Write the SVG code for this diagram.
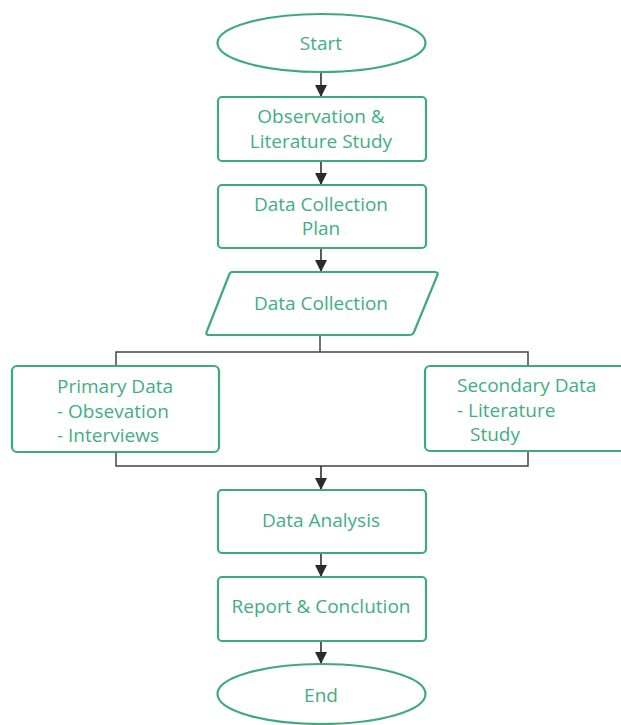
<svg xmlns="http://www.w3.org/2000/svg" width="621" height="725" viewBox="0 0 621 725">
<style>
.n{fill:#fff;stroke:#3caa7c;stroke-width:2.2}
.t{fill:#3fae82;font-family:"Open Sans",Roboto,sans-serif;font-size:19px}
.c{fill:none;stroke:#444;stroke-width:1.5}
.a{fill:none;stroke:#333;stroke-width:1.6}
</style>
<defs>
<marker id="ah" markerWidth="12" markerHeight="12" viewBox="0 0 12 12" refX="12" refY="6" orient="auto" markerUnits="userSpaceOnUse">
<path d="M0,0L12,6L0,12z" fill="#2b2b2b"/>
</marker>
</defs>
<rect width="621" height="725" fill="#fff"/>
<g id="connectors">
<line class="a" x1="321" y1="72" x2="321" y2="97" marker-end="url(#ah)"/>
<line class="a" x1="321" y1="162" x2="321" y2="185" marker-end="url(#ah)"/>
<line class="a" x1="321" y1="248" x2="321" y2="272" marker-end="url(#ah)"/>
<polyline class="c" points="320,335 320,352"/>
<polyline class="c" points="116,367 116,352 528,352 528,366"/>
<polyline class="c" points="116,452 116,466 528,466 528,451"/>
<line class="a" x1="321" y1="466" x2="321" y2="490" marker-end="url(#ah)"/>
<line class="a" x1="321" y1="553" x2="321" y2="577" marker-end="url(#ah)"/>
<line class="a" x1="321" y1="641" x2="321" y2="664" marker-end="url(#ah)"/>
</g>
<g id="start">
<ellipse class="n" cx="321.5" cy="43" rx="104" ry="29"/>
<text class="t" x="321" y="50" text-anchor="middle">Start</text>
</g>
<g id="observation">
<rect class="n" x="218" y="97" width="208" height="64" rx="4"/>
<text class="t" x="321" y="123" text-anchor="middle">Observation &amp;</text>
<text class="t" x="321" y="148" text-anchor="middle">Literature Study</text>
</g>
<g id="plan">
<rect class="n" x="218" y="185" width="208" height="63" rx="4"/>
<text class="t" x="321" y="211" text-anchor="middle">Data Collection</text>
<text class="t" x="321" y="235" text-anchor="middle">Plan</text>
</g>
<g id="collection">
<path class="n" d="M232,272 L435,272 Q439,272 437,276 L414,332 Q413,335 409,335 L209,335 Q205,335 207,331 L229,275 Q230,272 232,272 Z"/>
<text class="t" x="321" y="310" text-anchor="middle">Data Collection</text>
</g>
<g id="primary">
<rect class="n" x="12" y="366" width="207" height="86" rx="5"/>
<text class="t" x="57" y="393">Primary Data</text>
<text class="t" x="57" y="418">- Obsevation</text>
<text class="t" x="57" y="442">- Interviews</text>
</g>
<g id="secondary">
<rect class="n" x="425" y="366" width="210" height="85" rx="5"/>
<text class="t" x="457" y="392">Secondary Data</text>
<text class="t" x="457" y="417">- Literature</text>
<text class="t" x="470" y="441">Study</text>
</g>
<g id="analysis">
<rect class="n" x="218" y="490" width="208" height="63" rx="4"/>
<text class="t" x="321" y="527" text-anchor="middle">Data Analysis</text>
</g>
<g id="report">
<rect class="n" x="218" y="577" width="208" height="64" rx="4"/>
<text class="t" x="321" y="613" text-anchor="middle">Report &amp; Conclution</text>
</g>
<g id="end">
<ellipse class="n" cx="321.5" cy="694" rx="104" ry="30"/>
<text class="t" x="321" y="702" text-anchor="middle">End</text>
</g>
</svg>
